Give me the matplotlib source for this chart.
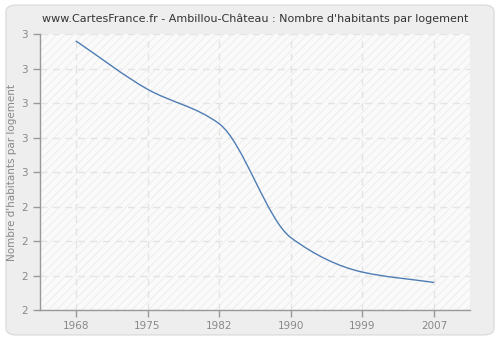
import math
import numpy as np
import matplotlib
matplotlib.use("Agg")
import matplotlib.pyplot as plt
from matplotlib.patches import FancyBboxPatch, PathPatch, Rectangle
from matplotlib.path import Path
from matplotlib.ticker import FuncFormatter

# Données
years = [1968, 1975, 1982, 1990, 1999, 2007]
habitants_par_logement = [2.88, 2.74, 2.64, 2.31, 2.21, 2.18]

TITLE = "www.CartesFrance.fr - Ambillou-Château : Nombre d'habitants par logement"
YLABEL = "Nombre d'habitants par logement"
Y_TICKS = [2.1, 2.2, 2.3, 2.4, 2.5, 2.6, 2.7, 2.8, 2.9]

LINE_COLOR = "#4f7db3"
GRID_COLOR = "#e4e4e4"
TEXT_COLOR = "#888888"


def smooth_path(x, y):
    # courbe de Bezier (tangentes type PCHIP) pour lisser le tracé
    x = np.asarray(x, float)
    y = np.asarray(y, float)
    h = np.diff(x)
    d = np.diff(y) / h
    m = np.zeros_like(y)
    m[0], m[-1] = d[0], d[-1]
    for i in range(1, len(y) - 1):
        if d[i - 1] * d[i] > 0:
            w1 = 2 * h[i] + h[i - 1]
            w2 = h[i] + 2 * h[i - 1]
            m[i] = (w1 + w2) / (w1 / d[i - 1] + w2 / d[i])
    verts = [(x[0], y[0])]
    codes = [Path.MOVETO]
    for i in range(len(x) - 1):
        verts += [(x[i] + h[i] / 3, y[i] + m[i] * h[i] / 3),
                  (x[i + 1] - h[i] / 3, y[i + 1] - m[i + 1] * h[i] / 3),
                  (x[i + 1], y[i + 1])]
        codes += [Path.CURVE4] * 3
    return Path(verts, codes)


fig = plt.figure(figsize=(5, 3.4), dpi=100)
fig.patch.set_facecolor("white")

# cadre arrondi de fond (dans un axe de fond)
bg = fig.add_axes([0, 0, 1, 1], zorder=0)
bg.set_axis_off()
bg.add_patch(FancyBboxPatch(
    (0.012, 0.015), 0.976, 0.97,
    boxstyle="round,pad=0,rounding_size=0.02",
    transform=bg.transAxes, facecolor="#eeeeee",
    edgecolor="#dddddd", linewidth=1.0))

ax = fig.add_axes([0.08, 0.088, 0.86, 0.812], zorder=2)
ax.set_facecolor("#fafafa")

# hachures diagonales
plt.rcParams["hatch.linewidth"] = 0.6
ax.add_patch(Rectangle((0, 0), 1, 1, transform=ax.transAxes,
                       facecolor="none", edgecolor="#ebebeb",
                       hatch="////", linewidth=0, zorder=0))

# axe x en catégories régulièrement espacées
xpos = np.arange(len(years))
ax.set_xlim(-0.5, len(years) - 0.5)
ax.set_ylim(Y_TICKS[0], Y_TICKS[-1])

ax.set_xticks(xpos)
ax.set_xticklabels([str(y) for y in years])
ax.set_yticks(Y_TICKS)
ax.yaxis.set_major_formatter(FuncFormatter(lambda v, p: f"{math.floor(v + 0.5 + 1e-9):d}"))

ax.grid(True, color=GRID_COLOR, linestyle=(0, (5, 4)), linewidth=1.0, zorder=1)

ax.add_patch(PathPatch(smooth_path(xpos, habitants_par_logement),
                       facecolor="none", edgecolor=LINE_COLOR,
                       linewidth=1.0, zorder=3))

for s in ["top", "right"]:
    ax.spines[s].set_visible(False)
for s in ["left", "bottom"]:
    ax.spines[s].set_color("#999999")
    ax.spines[s].set_linewidth(1.0)

ax.tick_params(axis="both", colors="#999999", labelcolor=TEXT_COLOR,
               labelsize=7.5, length=5, width=1.0)
ax.tick_params(axis="x", pad=3)

ax.set_ylabel(YLABEL, color=TEXT_COLOR, fontsize=7.5, labelpad=3)
ax.set_title(TITLE, color="#333333", fontsize=8, pad=9)

plt.savefig("out.png", dpi=100, facecolor=fig.get_facecolor())
